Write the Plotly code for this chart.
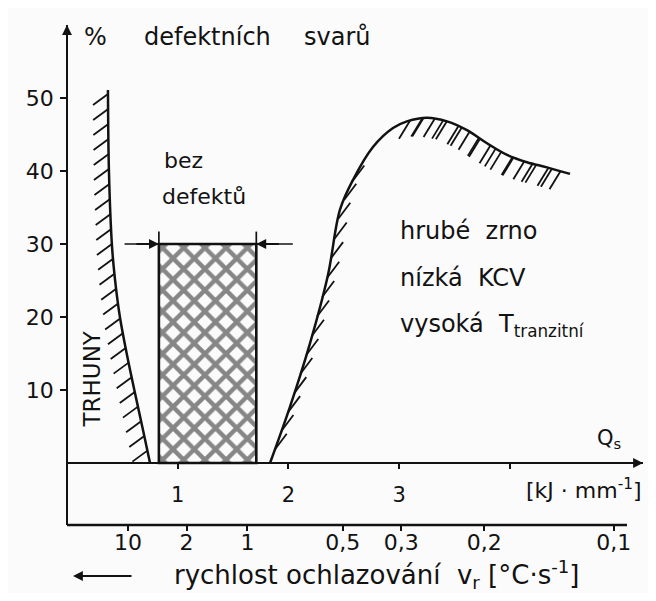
import plotly.graph_objects as go
import numpy as np

# page shows the figure with an 8 px body margin, so the figure is a bit smaller
OFF = 8
W, H = 640, 585

# % of defective welds (y) against heat input Q [kJ/mm] (x)
pct_ticks = [10, 20, 30, 40, 50]
q_ticks = [1, 2, 3, 4]
q_labels = ['1', '2', '3', '']

# cooling rate v_r [°C/s] and where each value sits on the Q scale
vr_labels = ['10', '2', '1', '0,5', '0,3', '0,2', '0,1']
vr_q = [0.55, 1.08, 1.63, 2.49, 3.02, 3.77, 4.94]

# boundary of the cracking region (TRHUNY)
crack_q = [0.37, 0.379, 0.407, 0.434, 0.479, 0.542, 0.614, 0.687, 0.75]
crack_pct = [51.1, 39.9, 29.6, 25.1, 19.9, 14.8, 9.6, 4.5, 0]

# boundary of the coarse grain region
grain_q = [1.834, 2.014, 2.195, 2.358, 2.466, 2.584, 2.764, 2.945, 3.071,
           3.252, 3.433, 3.613, 3.794, 3.975, 4.155, 4.336, 4.544]
grain_pct = [0, 7.7, 16.4, 25.8, 34.7, 38.8, 43.3, 45.9, 46.8,
             47.3, 46.8, 45.6, 43.8, 42.2, 41.2, 40.5, 39.6]

# defect-free window
ok_q = [0.83, 1.71]
ok_pct = 30

INK = '#121212'
BG = '#fbfbfb'
FONT = 'DejaVu Sans'


def fx(p):
    # page pixel -> paper x
    return (p - OFF) / W


def fy(p):
    # page pixel -> paper y
    return (H - (p - OFF)) / H


# axis geometry
x_dom = [fx(67), fx(643)]
x_rng = [0, 576 / 110.7]
y_dom = [fy(525), fy(25)]
y_rng = [(463 - 525) / 7.3, (463 - 25) / 7.3]
sx = (x_dom[1] - x_dom[0]) * W / (x_rng[1] - x_rng[0])
sy = (y_dom[1] - y_dom[0]) * H / (y_rng[1] - y_rng[0])


def hatch(qs, ps, step, vec_fn, start=0.0):
    # short strokes along a curve, direction given in screen pixels
    px = np.array(qs) * sx
    py = -np.array(ps) * sy
    d = np.concatenate([[0], np.cumsum(np.hypot(np.diff(px), np.diff(py)))])
    hx, hy = [], []
    for s in np.arange(start, d[-1] - 3, step):
        x0 = np.interp(s, d, px)
        y0 = np.interp(s, d, py)
        v = vec_fn(x0 / sx, -y0 / sy)
        if v is None:
            continue
        hx += [x0 / sx, (x0 + v[0]) / sx, None]
        hy += [-y0 / sy, -(y0 + v[1]) / sy, None]
    return hx, hy


def grain_vec(q, p):
    if q < 2.6:
        return (12, -16)
    if q < 3.05:
        return None
    return (-11, 18)


cx, cy = hatch(crack_q, crack_pct, 15, lambda q, p: (-15, 11), start=4)
gx1, gy1 = hatch(grain_q, grain_pct, 20, grain_vec, start=14)
gx2, gy2 = hatch(grain_q[7:], grain_pct[7:], 12.5, grain_vec, start=6)

fig = go.Figure()

# defect-free window, cross hatched
fig.add_trace(go.Bar(
    x=[(ok_q[0] + ok_q[1]) / 2], y=[ok_pct], width=[ok_q[1] - ok_q[0]], base=0,
    marker=dict(color='rgba(0,0,0,0)', line=dict(color=INK, width=2.6),
                pattern=dict(shape='x', size=15, solidity=0.5,
                             fgcolor=INK, bgcolor='rgba(0,0,0,0)')),
    hoverinfo='skip'))

fig.add_trace(go.Scatter(x=crack_q, y=crack_pct, mode='lines',
                         line=dict(color=INK, width=2.5, shape='spline')))
fig.add_trace(go.Scatter(x=grain_q, y=grain_pct, mode='lines',
                         line=dict(color=INK, width=2.5, shape='spline')))
fig.add_trace(go.Scatter(x=cx, y=cy, mode='lines', line=dict(color=INK, width=1.8)))
fig.add_trace(go.Scatter(x=gx1 + gx2, y=gy1 + gy2, mode='lines', xaxis='x2',
                         line=dict(color=INK, width=1.8)))

shapes = [
    # top of the window with its extension lines
    dict(type='line', xref='x', yref='y', x0=0.52, x1=2.04, y0=ok_pct, y1=ok_pct,
         line=dict(color=INK, width=1.7)),
    dict(type='line', xref='x', yref='y', x0=ok_q[0], x1=ok_q[0], y0=ok_pct, y1=ok_pct + 1.7,
         line=dict(color=INK, width=1.7)),
    dict(type='line', xref='x', yref='y', x0=ok_q[1], x1=ok_q[1], y0=ok_pct, y1=ok_pct + 1.7,
         line=dict(color=INK, width=1.7)),
    # lower edge of the scale box
    dict(type='line', xref='paper', yref='paper', x0=fx(67), x1=fx(627),
         y0=y_dom[0], y1=y_dom[0], line=dict(color=INK, width=2.5)),
]

ann = []


def txt(x, y, s, size=22, **kw):
    ann.append(dict(x=x, y=y, text=s, showarrow=False,
                    font=dict(family=FONT, size=size, color=INK), **kw))


txt(0.26, 58.4, '%', size=24)
txt(1.265, 58.4, 'defektních', size=24)
txt(2.44, 58.4, 'svarů', size=24)
txt(1.05, 41.5, 'bez')
txt(1.24, 36.5, 'defektů')
txt(0.23, 11.5, 'TRHUNY', size=23, textangle=-90)
txt(2.99, 31.8, 'hrubé  zrno', size=24, xanchor='left')
txt(2.99, 25.3, 'nízká  KCV', size=24, xanchor='left')
txt(2.99, 18.8, 'vysoká  T<sub>tranzitní</sub>', size=24, xanchor='left')
txt(4.9, 3.3, 'Q<sub>s</sub>', size=21)
txt(4.67, -3.6, '[kJ · mm<sup>-1</sup>]', size=22)
ann.append(dict(xref='paper', yref='paper', x=fx(376), y=fy(574),
                xanchor='center', yanchor='middle',
                text='rychlost ochlazování  v<sub>r</sub> [°C·s<sup>-1</sup>]',
                showarrow=False, font=dict(family=FONT, size=26, color=INK)))

# arrows
arrow = dict(showarrow=True, arrowhead=2, arrowsize=1.1, arrowwidth=1.8,
             arrowcolor=INK, text='')
ann.append(dict(x=0, y=y_rng[1], ax=0, ay=28, **arrow))
ann.append(dict(x=x_rng[1], y=0, ax=-28, ay=0, **arrow))
ann.append(dict(x=ok_q[0], y=ok_pct, ax=-24, ay=0, **arrow))
ann.append(dict(x=ok_q[1], y=ok_pct, ax=24, ay=0, **arrow))
ann.append(dict(xref='paper', yref='paper', x=fx(73), y=fy(576),
                ax=60, ay=0, **arrow))

fig.update_layout(
    width=W, height=H,
    margin=dict(l=0, r=0, t=0, b=0),
    paper_bgcolor=BG, plot_bgcolor=BG,
    showlegend=False,
    shapes=shapes, annotations=ann,
    font=dict(family=FONT, color=INK),
    xaxis=dict(domain=x_dom, range=x_rng, anchor='free', position=fy(463),
               showgrid=False, zeroline=False, showline=True, linecolor=INK, linewidth=2,
               ticks='outside', ticklen=5, tickwidth=2, tickcolor=INK,
               tickvals=q_ticks, ticktext=q_labels, ticklabelstandoff=8,
               tickfont=dict(family=FONT, size=21, color=INK)),
    xaxis2=dict(overlaying='x', range=x_rng, anchor='free', position=y_dom[0],
                side='bottom', showgrid=False, zeroline=False, showline=False,
                ticks='outside', ticklen=5, tickwidth=2, tickcolor=INK,
                tickvals=vr_q, ticktext=vr_labels, ticklabelstandoff=-7,
                tickfont=dict(family=FONT, size=22, color=INK)),
    yaxis=dict(domain=y_dom, range=y_rng, anchor='free', position=x_dom[0],
               showgrid=False, zeroline=False, showline=True, linecolor=INK, linewidth=1.8,
               ticks='outside', ticklen=6, tickwidth=2, tickcolor=INK,
               tickvals=pct_ticks, ticklabelstandoff=2,
               tickfont=dict(family=FONT, size=22, color=INK)),
)

fig.write_html("out.html")
